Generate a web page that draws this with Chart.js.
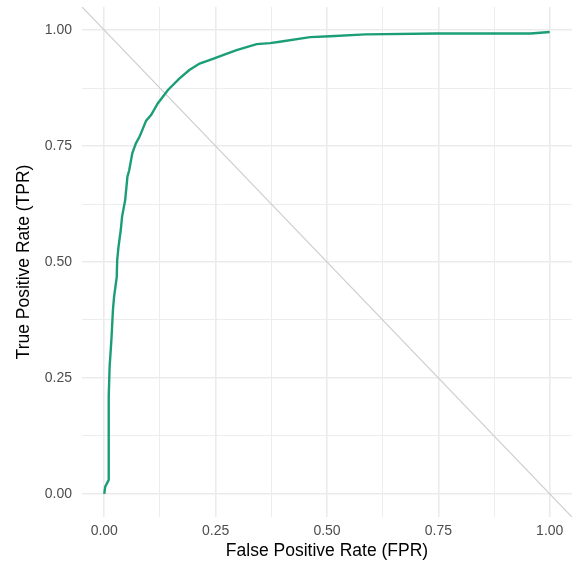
<!DOCTYPE html>
<html>
<head>
<meta charset="utf-8">
<script src="https://cdn.jsdelivr.net/npm/chart.js@4/dist/chart.umd.min.js"></script>
<style>
html,body{margin:0;padding:0;background:#fff;}
canvas{display:block;}
</style>
</head>
<body>
<canvas id="c" width="578" height="565"></canvas>
<script>
const fpr = [0, 0.002, 0.01, 0.01, 0.012, 0.016, 0.0195, 0.022, 0.028, 0.029, 0.032, 0.037, 0.04, 0.047, 0.052, 0.056, 0.063, 0.071, 0.079, 0.083, 0.094, 0.105, 0.12, 0.143, 0.169, 0.191, 0.214, 0.244, 0.274, 0.297, 0.342, 0.372, 0.394, 0.462, 0.507, 0.586, 0.747, 0.957, 1.0];
const tpr = [0, 0.015, 0.03, 0.21, 0.274, 0.332, 0.397, 0.425, 0.468, 0.504, 0.533, 0.569, 0.598, 0.634, 0.684, 0.698, 0.735, 0.756, 0.770, 0.779, 0.805, 0.817, 0.842, 0.871, 0.896, 0.914, 0.928, 0.938, 0.949, 0.957, 0.970, 0.972, 0.975, 0.985, 0.987, 0.991, 0.993, 0.993, 0.996];
const diagX = [-0.05, 1.05];
const diagY = [1.05, -0.05];
const tickValues = [0, 0.125, 0.25, 0.375, 0.5, 0.625, 0.75, 0.875, 1];
const majorTicks = [0, 0.25, 0.5, 0.75, 1];
const xTitle = 'False Positive Rate (FPR)';
const yTitle = 'True Positive Rate (TPR)';

const isMajor = v => majorTicks.some(m => Math.abs(m - v) < 1e-9);
const gridOpts = {
  color: '#ebebeb',
  lineWidth: ctx => (ctx.tick && isMajor(ctx.tick.value)) ? 1.6 : 0.9,
  drawTicks: false
};
const tickFont = {family: '"Liberation Sans", Arial, sans-serif', size: 14};
const titleFont = {family: '"Liberation Sans", Arial, sans-serif', size: 17.5};
const setTicks = scale => { scale.ticks = tickValues.map(v => ({value: v})); };
const fmt = v => isMajor(v) ? v.toFixed(2) : '';

new Chart(document.getElementById('c'), {
  type: 'scatter',
  data: {
    datasets: [
      {
        data: diagX.map((x, i) => ({x: x, y: diagY[i]})),
        showLine: true,
        borderColor: '#cccccc',
        borderWidth: 1.2,
        pointRadius: 0,
        order: 2
      },
      {
        data: fpr.map((x, i) => ({x: x, y: tpr[i]})),
        showLine: true,
        borderColor: '#1b9e77',
        borderWidth: 2.4,
        pointRadius: 0,
        tension: 0,
        order: 1
      }
    ]
  },
  options: {
    responsive: false,
    animation: false,
    layout: {padding: {top: 7, right: 6, left: 0, bottom: 0}},
    plugins: {legend: {display: false}, tooltip: {enabled: false}},
    scales: {
      x: {
        type: 'linear',
        min: -0.05, max: 1.05,
        afterBuildTicks: setTicks,
        afterFit: s => { s.height = 48; s.paddingLeft = 0; s.paddingRight = 0; },
        grid: gridOpts,
        border: {display: false},
        ticks: {callback: fmt, font: tickFont, color: '#4d4d4d', padding: 6, maxRotation: 0, autoSkip: false},
        title: {display: true, text: xTitle, font: titleFont, color: '#000000', padding: {top: 0, bottom: 3}}
      },
      y: {
        type: 'linear',
        min: -0.05, max: 1.05,
        afterBuildTicks: setTicks,
        afterFit: s => { s.width = 82; s.paddingTop = 0; s.paddingBottom = 0; },
        grid: gridOpts,
        border: {display: false},
        ticks: {callback: fmt, font: tickFont, color: '#4d4d4d', padding: 10, autoSkip: false},
        title: {display: true, text: yTitle, font: titleFont, color: '#000000', padding: {top: 14, bottom: 0}}
      }
    }
  }
});
</script>
</body>
</html>
